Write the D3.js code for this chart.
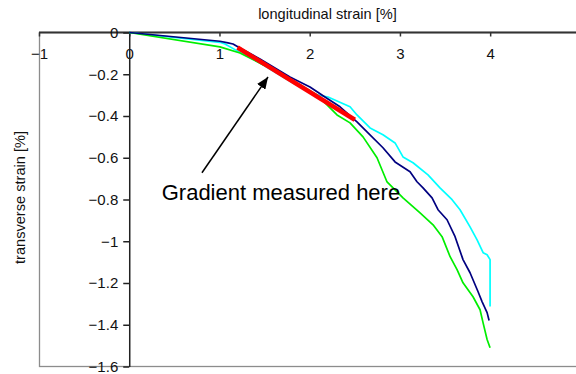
<!DOCTYPE html>
<html>
<head>
<meta charset="utf-8">
<script src="https://cdn.jsdelivr.net/npm/d3@7"></script>
<style>
  html, body { margin: 0; padding: 0; background: #fff; }
  svg { display: block; font-family: "Liberation Sans", Arial, sans-serif; }
</style>
</head>
<body>
<svg id="chart" width="576" height="374"></svg>
<script>
// Axis ticks
const xTicks = [-1, 0, 1, 2, 3, 4];
const yTicks = [0, -0.2, -0.4, -0.6, -0.8, -1, -1.2, -1.4, -1.6];

// Specimen curves: [longitudinal strain %, transverse strain %]
const specimenNavy = [
  [0, 0], [1.005, -0.042], [1.094, -0.050], [1.150, -0.055], [1.227, -0.074],
  [1.449, -0.127], [1.781, -0.213], [2.003, -0.261], [2.169, -0.309], [2.336, -0.356],
  [2.524, -0.428], [2.635, -0.476], [2.812, -0.552], [2.946, -0.620], [3.112, -0.667],
  [3.189, -0.715], [3.256, -0.744], [3.356, -0.792], [3.422, -0.849], [3.522, -0.897],
  [3.611, -0.978], [3.699, -1.088], [3.777, -1.151], [3.866, -1.242], [3.910, -1.289],
  [3.966, -1.342], [3.988, -1.380]
];
const specimenCyan = [
  [0, 0], [1.005, -0.047], [1.061, -0.055], [1.172, -0.082], [1.449, -0.146],
  [1.815, -0.242], [2.081, -0.299], [2.203, -0.309], [2.447, -0.356], [2.524, -0.395],
  [2.669, -0.457], [2.812, -0.490], [2.946, -0.529], [3.034, -0.596], [3.145, -0.624],
  [3.311, -0.682], [3.444, -0.744], [3.578, -0.801], [3.666, -0.849], [3.777, -0.931],
  [3.855, -0.993], [3.922, -1.055], [3.966, -1.065], [3.999, -1.088], [3.999, -1.313]
];
const specimenGreen = [
  [0, 0], [1.005, -0.069], [1.227, -0.098], [1.482, -0.154], [1.637, -0.179],
  [1.859, -0.242], [2.081, -0.299], [2.192, -0.347], [2.303, -0.395], [2.447, -0.433],
  [2.591, -0.500], [2.746, -0.600], [2.857, -0.716], [2.946, -0.754], [3.034, -0.792],
  [3.223, -0.864], [3.367, -0.921], [3.467, -0.978], [3.556, -1.074], [3.633, -1.136],
  [3.699, -1.199], [3.810, -1.266], [3.888, -1.328], [3.921, -1.390], [3.966, -1.471],
  [3.999, -1.510]
];
// Fitted gradient segment
const gradientLine = [[1.2, -0.072], [2.5, -0.418]];
// Annotation arrow: tail, tip
const arrowPoints = [[0.806, -0.672], [1.538, -0.213]];
const annotationText = "Gradient measured here";
const annotationAt = [0.36, -0.80];

const svg = d3.select("#chart");

const x = d3.scaleLinear().domain([-1, 5]).range([39, 580.4]);
const y = d3.scaleLinear().domain([0, -1.6]).range([32.5, 366.5]);

// Plot area frame
svg.append("rect")
  .attr("x", 39.5).attr("y", 32.5)
  .attr("width", 600).attr("height", 334)
  .attr("fill", "none").attr("stroke", "#8c8c8c").attr("stroke-width", 1.3);

// Top x axis (crosses at y = 0)
const xAxis = svg.append("g")
  .attr("transform", `translate(0,${y(0)})`)
  .call(d3.axisBottom(x).tickValues(xTicks).tickSize(4).tickSizeOuter(0).tickFormat(d3.format("d")));
xAxis.select(".domain").attr("stroke", "#333").attr("stroke-width", 2)
  .attr("d", `M${x(-1)},0H576`);
xAxis.selectAll(".tick line").attr("stroke", "#333").attr("stroke-width", 1.5);
xAxis.selectAll(".tick text")
  .attr("y", 15.5).attr("dy", "0.71em")
  .attr("font-size", 15).attr("font-family", "Liberation Sans, Arial, sans-serif")
  .attr("fill", "#111");

// Y axis at x = 0
const yAxis = svg.append("g")
  .attr("transform", `translate(${x(0)},0)`)
  .call(d3.axisLeft(y).tickValues(yTicks).tickSize(6).tickSizeOuter(0).tickFormat(d => d3.format("")(+d.toFixed(1))));
yAxis.select(".domain").attr("stroke", "#222").attr("stroke-width", 1.5);
yAxis.selectAll(".tick line").attr("stroke", "#222").attr("stroke-width", 1.5);
yAxis.selectAll(".tick text")
  .attr("x", -11)
  .attr("font-size", 15).attr("font-family", "Liberation Sans, Arial, sans-serif")
  .attr("fill", "#111");

// Axis titles
svg.append("text")
  .attr("x", 327.5).attr("y", 19)
  .attr("text-anchor", "middle")
  .attr("font-size", 14.6).attr("fill", "#111")
  .text("longitudinal strain [%]");
svg.append("text")
  .attr("transform", "translate(25,197.5) rotate(-90)")
  .attr("text-anchor", "middle")
  .attr("font-size", 14.6).attr("fill", "#111")
  .text("transverse strain [%]");

// Curves
const line = d3.line().x(d => x(d[0])).y(d => y(d[1]));
const curves = [
  { data: specimenCyan, color: "#00ffff" },
  { data: specimenGreen, color: "#00ee00" },
  { data: specimenNavy, color: "#000080" }
];
svg.selectAll("path.curve").data(curves).join("path")
  .attr("class", "curve")
  .attr("d", d => line(d.data))
  .attr("fill", "none")
  .attr("stroke", d => d.color)
  .attr("stroke-width", 1.7)
  .attr("stroke-linejoin", "round");

// Gradient segment
svg.append("path")
  .attr("d", line(gradientLine))
  .attr("fill", "none").attr("stroke", "#ff0000").attr("stroke-width", 4.5)
  .attr("stroke-linecap", "butt");

// Annotation arrow
const defs = svg.append("defs");
defs.append("marker")
  .attr("id", "arrowhead")
  .attr("viewBox", "0 0 12 10")
  .attr("refX", 12).attr("refY", 5)
  .attr("markerWidth", 12).attr("markerHeight", 10)
  .attr("markerUnits", "userSpaceOnUse")
  .attr("orient", "auto")
  .append("path").attr("d", "M0,0L12,5L0,10Z").attr("fill", "#000");
svg.append("path")
  .attr("d", line(arrowPoints))
  .attr("stroke", "#000").attr("stroke-width", 1.5)
  .attr("marker-end", "url(#arrowhead)");

svg.append("text")
  .attr("x", x(annotationAt[0])).attr("y", y(annotationAt[1]))
  .attr("font-size", 22).attr("fill", "#000")
  .text(annotationText);
</script>
</body>
</html>
